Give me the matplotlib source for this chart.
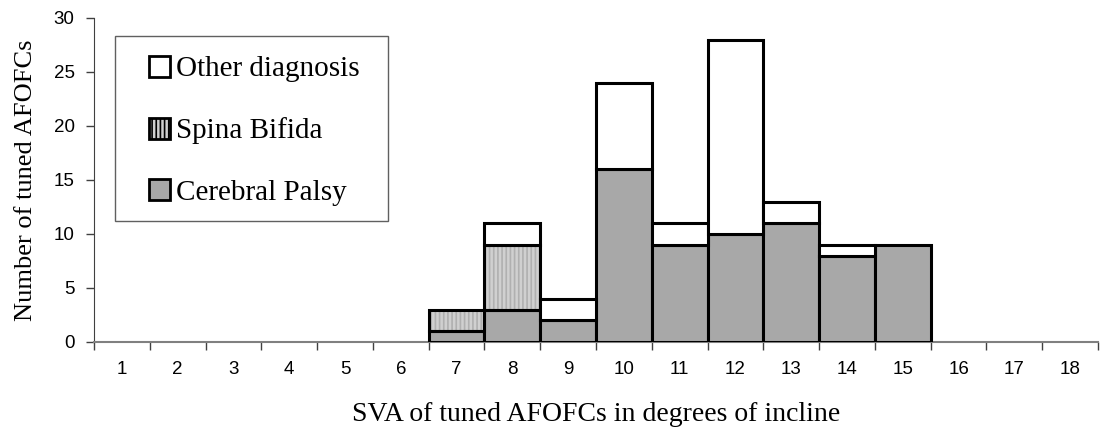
import numpy as np
import matplotlib
matplotlib.use("Agg")
import matplotlib.pyplot as plt
from matplotlib.patches import Patch, Rectangle

# SVA categories (degrees of incline) and counts per diagnosis
sva = list(range(1, 19))
cerebral_palsy = [0, 0, 0, 0, 0, 0, 1, 3, 2, 16, 9, 10, 11, 8, 9, 0, 0, 0]
spina_bifida   = [0, 0, 0, 0, 0, 0, 2, 6, 0, 0, 0, 0, 0, 0, 0, 0, 0, 0]
other_diag     = [0, 0, 0, 0, 0, 0, 0, 2, 2, 8, 2, 18, 2, 1, 0, 0, 0, 0]

cp_col = '#a8a8a8'
sb_col = '#d0d0d0'
ot_col = '#ffffff'

plt.rcParams['hatch.linewidth'] = 1.2

fig = plt.figure(figsize=(11.04, 4.30), dpi=100)
ax = fig.add_axes([0.0851, 0.2047, 0.9095, 0.7535])

x = np.array(sva)
cp = np.array(cerebral_palsy)
sb = np.array(spina_bifida)
ot = np.array(other_diag)

def stack(vals, bottom, fc, hatch=None, hcol=None):
    m = vals > 0
    if hatch:
        ax.bar(x[m], vals[m], width=1.0, bottom=bottom[m], color=fc,
               hatch=hatch, edgecolor=hcol, linewidth=0, zorder=2)
        ax.bar(x[m], vals[m], width=1.0, bottom=bottom[m], color='none',
               edgecolor='black', linewidth=2.2, zorder=3)
    else:
        ax.bar(x[m], vals[m], width=1.0, bottom=bottom[m], color=fc,
               edgecolor='black', linewidth=2.2, zorder=3)

zero = np.zeros(len(x))
stack(cp, zero, cp_col)
stack(sb, cp, sb_col, hatch='||||', hcol='#b0b0b0')
stack(ot, cp + sb, ot_col)

ax.set_xlim(0.5, 18.5)
ax.set_ylim(0, 30)
ax.set_yticks(range(0, 31, 5))
ax.set_xticks(x)
ax.set_xticklabels([str(v) for v in sva])
ax.set_xticks(np.arange(0.5, 19, 1), minor=True)
ax.tick_params(axis='x', which='major', length=0, pad=14, labelsize=13.5)
ax.tick_params(axis='x', which='minor', length=6, width=1, color='#404040')
ax.tick_params(axis='y', length=6, width=1, color='#404040', labelsize=13.5, pad=8)
for lab in ax.get_xticklabels() + ax.get_yticklabels():
    lab.set_family('Liberation Sans')

for s in ['top', 'right']:
    ax.spines[s].set_visible(False)
ax.spines['left'].set_color('#404040')
ax.spines['bottom'].set_color('#808080')
ax.spines['bottom'].set_linewidth(1.5)

ax.set_xlabel('SVA of tuned AFOFCs in degrees of incline',
              family='Liberation Serif', fontsize=20, labelpad=17)
ax.set_ylabel('Number of tuned AFOFCs', family='Liberation Serif',
              fontsize=19, labelpad=12)

# legend box (drawn separately so the padding can match)
ax.add_patch(Rectangle((0.0209, 0.3735), 0.2719, 0.5709, transform=ax.transAxes,
                       facecolor='white', edgecolor='#606060', linewidth=1.0,
                       zorder=4, clip_on=False))

handles = [
    Patch(facecolor=ot_col, edgecolor='black', linewidth=2),
    Patch(facecolor=sb_col, edgecolor='black', linewidth=2, hatch='||||'),
    Patch(facecolor=cp_col, edgecolor='black', linewidth=2),
]
leg = ax.legend(handles, ['Other diagnosis', 'Spina Bifida', 'Cerebral Palsy'],
                loc='upper left', bbox_to_anchor=(0.0548, 0.883),
                prop={'family': 'Liberation Serif', 'size': 21},
                handlelength=0.72, handleheight=0.72, handletextpad=0.22,
                labelspacing=1.2, borderpad=0, borderaxespad=0,
                frameon=False)
leg.set_zorder(5)

fig.savefig('out.png', dpi=100)
